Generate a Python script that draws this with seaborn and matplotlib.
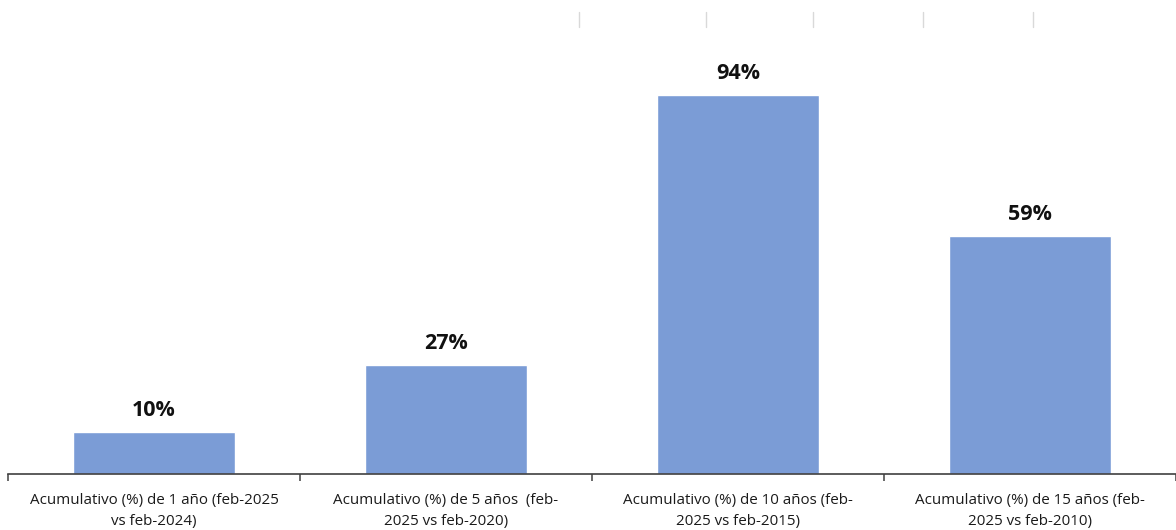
import matplotlib
matplotlib.use("Agg")
import matplotlib.pyplot as plt
from matplotlib.lines import Line2D
import seaborn as sns
import pandas as pd

categorias = [
    "Acumulativo (%) de 1 año (feb-2025\nvs feb-2024)",
    "Acumulativo (%) de 5 años  (feb-\n2025 vs feb-2020)",
    "Acumulativo (%) de 10 años (feb-\n2025 vs feb-2015)",
    "Acumulativo (%) de 15 años (feb-\n2025 vs feb-2010)",
]
valores = [10.4, 27.0, 94.0, 59.0]
etiquetas = ["10%", "27%", "94%", "59%"]

df = pd.DataFrame({"cat": categorias, "val": valores})

sns.set_style("white")
plt.rcParams["font.family"] = ["Open Sans", "DejaVu Sans"]

fig = plt.figure(figsize=(11.76, 5.30), dpi=100)
ax = fig.add_axes([8 / 1176, 56 / 530, 1 - 8 / 1176, 474 / 530])

sns.barplot(data=df, x="cat", y="val", color="#7B9CD6", saturation=1,
            width=0.555, ax=ax)

for i, (v, t) in enumerate(zip(valores, etiquetas)):
    ax.text(i, v + 2.7, t, ha="center", va="bottom", fontsize=15.5,
            fontweight="bold", color="#111111")

ax.set_xlim(-0.5, 3.5)
ax.set_ylim(0, 117.6)
ax.set_xlabel("")
ax.set_ylabel("")
ax.set_yticks([])
for s in ["top", "right", "left"]:
    ax.spines[s].set_visible(False)
ax.spines["bottom"].set_color("#404040")
ax.spines["bottom"].set_linewidth(1.2)

ax.set_xticks([-0.5, 0.5, 1.5, 2.5, 3.5], minor=True)
ax.tick_params(axis="x", which="minor", bottom=True, length=5, width=1.1,
               color="#404040", direction="out")
ax.tick_params(axis="x", which="major", bottom=True, length=0, pad=14,
               labelsize=10.9, labelcolor="#1a1a1a")
for lab in ax.get_xticklabels():
    lab.set_linespacing(1.5)

# marcas grises sueltas arriba
for xp in [579, 706, 813, 923, 1033]:
    fig.add_artist(Line2D([xp / 1176, xp / 1176], [1 - 12 / 530, 1 - 27 / 530],
                          color="#d9d9d9", linewidth=1))

fig.savefig("out.png", dpi=100)
